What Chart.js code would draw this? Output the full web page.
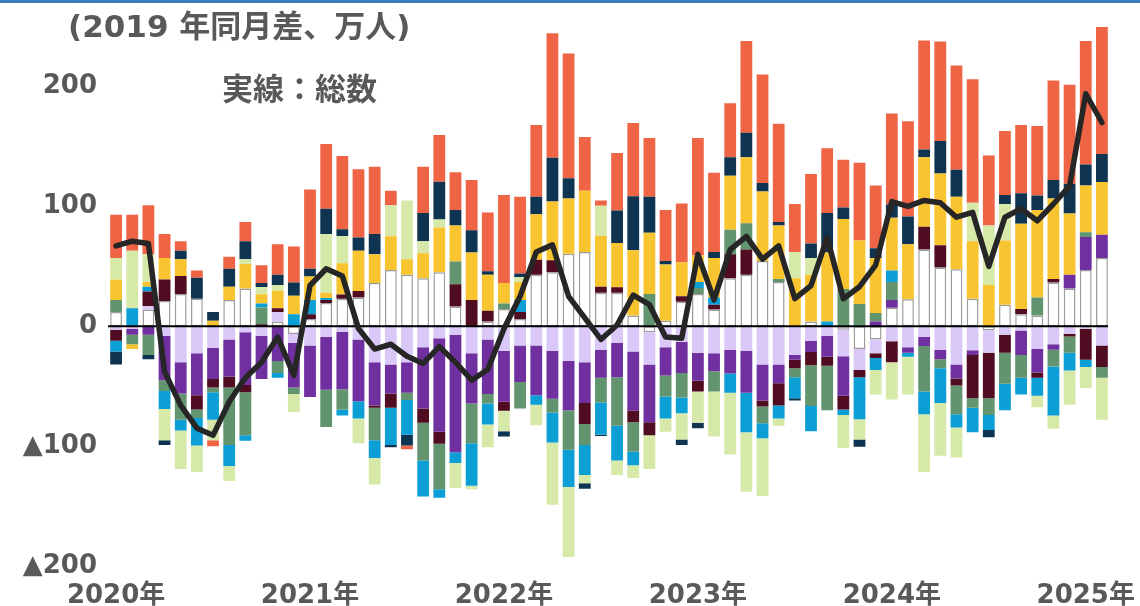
<!DOCTYPE html>
<html lang="ja">
<head>
<meta charset="utf-8">
<title>2019年同月差</title>
<script src="https://cdn.jsdelivr.net/npm/chart.js@4.4.1/dist/chart.umd.min.js"></script>
<style>
  html, body { margin: 0; padding: 0; background: #fff; }
  #wrap { position: relative; width: 1140px; height: 606px; }
  #topline { position: absolute; left: 0; top: 0; width: 1140px; height: 3px; background: #3f7fc0; }
</style>
</head>
<body>
<div id="wrap">
  <canvas id="chart"></canvas>
  <div id="topline"></div>
</div>
<script>
// months Jan 2020 .. Feb 2025
const months = [];
for (let y = 2020; y <= 2025; y++) {
    for (let m = 1; m <= 12; m++) {
        if (y === 2025 && m > 2) break;
        months.push(y + '-' + String(m).padStart(2, '0'));
    }
}
const yearLabels = ['2020年', '2021年', '2022年', '2023年', '2024年', '2025年'];
const yTicks = [-200, -100, 0, 100, 200];

// stacked series (万人), stacking order from zero outward
const white = [12, 0, 14, 21, 27, 23, 0, 22, 31.5, 0, 4, -6.5, 6, 19.5, 23, 24, 36, 47, 43, 40, 45, 16.5, 0, 4, 14.5, 6, 43, 45, 60.5, 62, 28, 28, 9, -5, 4.5, 20.5, 27, 14, 40, 43, 54.5, 37, 0, 4, 0, -3, -19, -11, 15.5, 22.5, 64, 49, 47.5, 23, -3.5, 18, 10, 9, 36.5, 31.5, 47, 57];
const lavender = [-3, -2, 3, -8, -30, -22.5, -18, -11, -5, -8, 8, -7.5, -16, -9, -4.5, -11, -30, -32, -30, -17.5, -10, -7, -22.5, -11, -20.5, -16, -16, -20.5, -29, -30, -19.5, -14, -21, -27, -17.5, -13, -22, -22.5, -19.5, -20.5, -32, -32, -24, -12, -8, -22, -17.5, -11.5, -12.5, -17.5, -9, -19.5, -32, -20, -18.5, -7, -3.5, -19, -15, -6.5, -2, -16];
const purple = [0, -5, -7, -37, -26, -35, -26, -31, -44, -36, -29, -37, -43, -44, -48, -51.5, -36, -24, -25.5, -51, -78, -98, -42, -45.5, -42.5, -30.5, -41.5, -40, -41, -34, -23.5, -28.5, -49.5, -48, -23.5, -26, -23.5, -15, -20, -35, -30, -15.5, -4, -9.5, -17.5, -33, 0, 4, 6.5, -4.5, -7.5, -8, -11.5, -4, 0, 0, -20.5, -19.5, -4.5, 11.5, 27.5, 19.3];
const maroon = [-9, 0, 12, 18, 15, -12, -7, -9, -6, 1.7, 3, 0, 4, 2.5, 3.5, 5.5, -2, -12, 0, -12, -10, 18.5, 22, 9, -7.5, 6, 12.5, 10, 0, -17.5, 5, 4.5, -9.5, -11, 0, 4.5, -9, 4, 20, 21, -5, -18.5, -7, -11, -7.5, -11.5, -6, -4, -17.5, 0, 19, 18.5, -6, -36, -38, -15, 4.5, -4.5, 3, -2, -26, -18];
const grayGreen = [10, -8, -17, -9, -22, -7, -4, -48, -36, 14, -10, -5.5, 0, -31, -17, 0, -27, 0, -6, -31.5, -38, 19, -33, -8, 4.5, -22, 0, -11.5, -33, -17.5, -20.5, -40.5, -24.5, 27, -17.5, -20.5, 5, -17, 20.5, 22, -14, 2.5, -7.5, -34, -37, 31, 18.5, 7, 15, 0, -38, -7.5, -24, -8, -14, -26, -19, 15, -14, -13.5, 4, -9];
const cyan = [-9, 15, 4, -15, -9, -23, -23, -17.5, -4.5, 3.3, -4, 10, 12, 1.5, -5, -14.5, -15, -31, -29, -30, -7, -9, -35.5, -17.5, 0, 10, -8, -25, -31, -25, -27, -29, -11.5, 0, -18.5, -13, 5, 6, -16, -33, -12.5, -11, -17.5, -21, 4, -4.5, -35, -10, 9.5, -3.5, -19, -29, -11, -20.5, -12.5, -22, -14, -15, -41, -15, -6, 0];
const yellow = [17, -4, 4, 18, 14, 0, 4.5, 11, 20.5, 7.8, 14.7, 15.5, 19.5, 4.5, 26, 33.5, 24, 28, 13, 21, 37.5, 30, 39.5, 30, 17, 15, 38, 49, 46, 51, 42.5, 37, 54.5, 51, 47, 28.5, 22, 33, 45, 55, 58, 44.5, 40, 39, 57.5, 58.5, 53, 46, 44, 46, 58, 60, 60.5, 48, 34.5, 53.5, 71, 73, 67, 51, 39, 44];
const lightGreen = [18, 48, 23, -26, -32, -22, -17, -12.5, 4, 6, 4.7, -15, 0, 49, 22.5, -20.5, -22, 26, 49, 10, 6.5, -21, -3, -19, -17, 4, -17, -52, -58.5, -7, 25, -12, -10.5, -28, -11, -22, -26, -37.5, -51.5, -49.5, -48, -6, 22, 14, 0, -27.5, -17, -20.5, -31, -31.5, -48, -44, -25, 32, 49.5, 30.5, 0, -9.5, -11, -28.5, -17.5, -35];
const navy = [-11, 0, -3.5, -4, 7, 17.5, 7.5, 15, 15, 3.3, 8.5, 11, 6.5, 21, 6, 11, 17, -2, -9, 23.5, 31.5, 13, 18.5, 3, -4.5, 3, 14.5, 36.5, 17, -4.5, -1, 27, 45, 30, 3, -4.5, -4.5, 5, 15.5, 20.5, 7, 3, -2, 12, 33, 9.5, -6, 8, 11, 23, 6.5, 27, 22.5, 0, -6, 7.5, 25.5, 12, 15.5, 25, 17.5, 23.4];
const orange = [36, 30, 41, 20, 8, 6, -5, 10, 16, 14.7, 25.5, 30, 66, 54, 61, 57, 56, 12, -3, 38.5, 39, 31.5, 42, 49, 73.5, 64, 60, 104, 104, 45, 4.5, 48, 61, 49, 42.5, 49, 98, 66, 45, 76.5, 90.5, 82, 40, 58, 54, 40, 65, 52.5, 76, 79.5, 91, 83, 87, 103, 58.5, 53.5, 57, 58, 83, 82.5, 103, 106];

// solid line: total
const total = [67, 71, 69, -38, -66, -85, -91, -63, -43, -30, -9, -41, 34, 48, 42, -2, -19, -15, -25, -31, -17, -30, -45, -36, -2, 25, 62, 68, 25, 7, -11, 1, 26, 18, -9, -10, 60, 22, 64, 75, 56, 67, 23, 34, 74, 23, 33, 51, 104, 100, 105, 103, 91, 95, 50, 91, 98, 88, 102, 117, 194, 170];

const textColor = '#595959';
const labelFont = { family: '"DejaVu Sans", "Noto Sans CJK JP", sans-serif', size: 26, weight: 'bold' };

function barSet(data, color) {
    return {
        type: 'bar',
        data: data,
        backgroundColor: color,
        borderWidth: 0,
        stack: 'bars',
        order: 1,
        barPercentage: 0.73,
        categoryPercentage: 1.0
    };
}

const whiteSet = barSet(white, '#ffffff');
whiteSet.borderColor = '#9c9c9c';
whiteSet.borderWidth = 1.5;
whiteSet.borderSkipped = false;

// zero line drawn just before the total line, texts after everything
const overlay = {
    id: 'overlay',
    beforeDatasetDraw(chart, args) {
        if (args.index !== chart.data.datasets.length - 1) return;
        const ctx = chart.ctx;
        const y0 = chart.scales.y.getPixelForValue(0);
        ctx.save();
        ctx.strokeStyle = '#000';
        ctx.lineWidth = 2;
        ctx.beginPath();
        ctx.moveTo(chart.chartArea.left, y0);
        ctx.lineTo(chart.chartArea.right - 2, y0);
        ctx.stroke();
        ctx.restore();
    },
    afterDraw(chart) {
        const ctx = chart.ctx;
        ctx.save();
        ctx.fillStyle = textColor;
        ctx.textBaseline = 'middle';
        ctx.textAlign = 'left';
        ctx.font = 'bold 31px "DejaVu Sans", "Noto Sans CJK JP", sans-serif';
        ctx.fillText('(2019 年同月差、万人)', 68, 29);
        ctx.font = 'bold 31px "Noto Sans CJK JP", sans-serif';
        ctx.fillText('実線：総数', 222, 88);
        ctx.restore();
    }
};

document.addEventListener('DOMContentLoaded', () => {
    const ctx = document.getElementById('chart');
    new Chart(ctx, {
        data: {
            labels: months,
            datasets: [
                whiteSet,
                barSet(lavender, '#dac8f8'),
                barSet(purple, '#7030a0'),
                barSet(maroon, '#500c20'),
                barSet(grayGreen, '#62956f'),
                barSet(cyan, '#0b9fd6'),
                barSet(yellow, '#f8c430'),
                barSet(lightGreen, '#d7e9a9'),
                barSet(navy, '#0e3452'),
                barSet(orange, '#f06446'),
                {
                    type: 'line',
                    data: total,
                    borderColor: '#262626',
                    borderWidth: 5.5,
                    pointRadius: 0,
                    fill: false,
                    tension: 0,
                    borderJoinStyle: 'round',
                    borderCapStyle: 'round',
                    stack: 'line',
                    order: 0
                }
            ]
        },
        options: {
            responsive: true,
            maintainAspectRatio: false,
            animation: false,
            layout: { padding: { top: 26, right: 30, bottom: 0, left: 0 } },
            plugins: {
                legend: { display: false },
                tooltip: { enabled: false }
            },
            scales: {
                x: {
                    stacked: true,
                    grid: { display: false },
                    border: { display: false },
                    ticks: {
                        autoSkip: false,
                        maxRotation: 0,
                        padding: 7,
                        color: textColor,
                        font: labelFont,
                        callback: (v, i) => (i % 12 === 0 ? yearLabels[i / 12] : '')
                    },
                    afterFit: (scale) => { scale.height = 40; }
                },
                y: {
                    stacked: true,
                    min: -200,
                    max: 250,
                    grid: { display: false, drawTicks: false },
                    border: { display: false },
                    ticks: {
                        stepSize: 100,
                        padding: 11,
                        color: textColor,
                        font: labelFont,
                        callback: (v) => (v < 0 ? '▲' + (-v) : String(v))
                    },
                    afterBuildTicks: (scale) => {
                        scale.ticks = yTicks.map(v => ({ value: v }));
                    },
                    afterFit: (scale) => { scale.width = 108; }
                }
            }
        },
        plugins: [overlay]
    });
});
</script>
</body>
</html>
